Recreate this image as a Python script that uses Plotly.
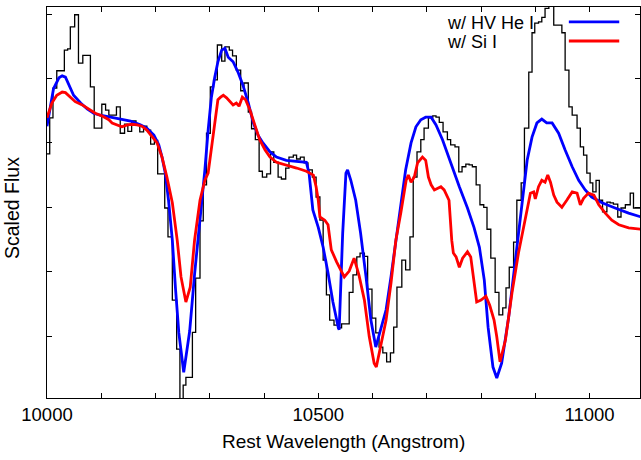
import plotly.graph_objects as go

# Observed spectrum (histogram step): bin left edges (Angstrom) and scaled flux
obs_wl = [10000,10005,10011,10018,10025,10032,10038,10043,10051,10058,
          10066,10073,10080,10087,10094,10101,10108,10114,10121,10128,
          10135,10143,10149,10156,10164,10171,10178,10184,10191,10198,
          10204,10211,10217,10223,10231,10239,10245,10251,10256,10261,
          10268,10274,10282,10288,10294,10301,10307,10314,10322,10328,
          10336,10342,10349,10357,10363,10371,10377,10384,10391,10397,
          10405,10412,10418,10426,10432,10440,10446,10454,10460,10467,
          10474,10481,10489,10496,10503,10509,10515,10521,10529,10536,
          10543,10550,10557,10564,10571,10577,10585,10591,10599,10606,
          10612,10619,10626,10633,10639,10645,10654,10661,10669,10675,
          10682,10689,10695,10703,10711,10717,10723,10730,10738,10744,
          10752,10759,10765,10772,10778,10784,10791,10798,10805,10811,
          10818,10826,10833,10840,10846,10852,10860,10866,10874,10880,
          10888,10894,10899,10906,10912,10918,10925,10934,10940,10949,
          10955,10962,10968,10977,10983,10989,10995,11001,11006,11012,
          11018,11024,11032,11038,11044,11052,11058,11066,11075,11081,
          11087,11100]
obs_flux = [3.83,4.39,4.85,5.12,5.12,5.44,5.46,5.80,5.99,5.24,
            5.36,5.36,4.87,4.23,4.23,4.60,4.51,4.43,4.43,4.56,
            4.15,4.29,4.18,4.34,4.28,4.17,4.26,4.20,3.98,4.04,
            3.52,3.52,2.99,2.54,1.56,0.80,-0.05,0.24,0.36,0.36,
            1.06,1.90,2.79,3.35,4.15,4.87,4.98,5.52,5.27,5.49,
            5.44,5.35,5.13,4.81,4.93,4.48,4.22,4.05,3.56,3.47,
            3.52,3.86,3.70,3.47,3.44,3.61,3.78,3.81,3.75,3.78,
            3.69,3.58,3.47,3.16,2.80,2.18,1.64,1.25,1.17,1.13,
            1.19,1.19,1.68,1.95,2.23,2.29,2.24,1.73,1.28,1.05,
            0.83,0.74,0.60,0.74,1.14,1.76,2.18,2.03,2.54,3.47,
            3.86,4.05,4.23,4.39,4.42,4.40,4.32,4.17,4.05,3.97,
            3.94,3.55,3.63,3.67,3.66,3.63,3.35,3.04,3.00,2.66,
            2.21,1.68,1.33,1.44,1.75,2.07,2.46,3.11,3.38,4.23,
            5.10,5.71,5.86,5.88,5.95,6.09,6.20,5.83,5.83,5.71,
            5.13,4.56,4.43,4.23,3.94,3.81,3.53,3.38,3.24,3.42,
            3.11,2.93,3.08,3.07,3.05,2.85,2.99,3.04,3.22,2.99,
            2.99,2.99]

# Model with high-velocity He I
he_wl = [10000,10006,10012,10022,10028,10034,10040,10049,10062,10074,
         10086,10098,10117,10135,10154,10172,10184,10197,10206,10212,
         10218,10224,10231,10237,10243,10252,10263,10272,10282,10291,
         10297,10303,10309,10315,10322,10328,10334,10343,10352,10361,
         10371,10380,10389,10398,10411,10423,10441,10460,10478,10483,
         10490,10500,10509,10518,10527,10537,10538.5,10545,10551,10554,
         10560,10569,10578,10588,10597,10606,10615,10625,10634,10643,
         10652,10661,10671,10680,10689,10698,10708,10717,10729,10744,
         10760,10775,10787,10797,10806,10813,10822,10829,10838,10851,
         10863,10875,10885,10894,10903,10912,10921,10931,10943,10955,
         10968,10980,10992,11004,11023,11047,11072,11095]
he_flux = [4.26,4.56,4.84,5.01,5.04,5.02,4.90,4.74,4.62,4.53,
           4.46,4.43,4.40,4.37,4.34,4.28,4.23,4.12,3.97,3.78,
           3.53,3.11,2.49,1.72,1.05,0.44,1.08,1.96,2.80,3.58,
           4.20,4.71,5.01,5.26,5.44,5.47,5.33,5.26,5.10,4.90,
           4.62,4.32,4.12,4.00,3.86,3.78,3.73,3.72,3.70,3.53,
           2.96,2.69,2.38,1.98,1.53,1.13,1.10,2.60,3.53,3.58,
           3.42,3.11,2.60,1.92,1.25,0.83,1.10,1.41,1.92,2.49,
           3.00,3.58,4.00,4.25,4.36,4.40,4.40,4.28,4.05,3.69,
           3.32,2.99,2.69,2.38,1.87,1.14,0.52,0.35,0.58,1.30,
           2.18,3.00,3.73,4.09,4.31,4.37,4.31,4.31,4.15,3.89,
           3.63,3.42,3.27,3.16,3.07,2.99,2.91,2.85]

# Model with Si I
si_wl = [10000,10009,10018,10028,10034,10043,10052,10065,10077,10089,
         10101,10114,10120,10129,10138,10148,10157,10166,10175,10184,
         10194,10203,10212,10221,10231,10240,10247,10256,10264,10272,
         10282,10291,10297,10303,10309,10315,10320,10325,10331,10337,
         10343,10349,10354,10360,10366,10374,10383,10392,10402,10411,
         10423,10442,10460,10478,10491,10496,10500,10503,10512,10518,
         10524,10534,10542,10548,10557,10566,10575,10585,10594,10603,
         10607,10615,10625,10634,10643,10652,10662,10666,10671,10677,
         10683,10692,10698,10703,10708,10714,10720,10726,10732,10741,
         10746,10749,10754,10760,10766,10775,10781,10787,10792,10800,
         10809,10816,10824,10829,10835,10845,10857,10869,10882,10891,
         10897,10900,10906,10912,10918,10923,10928,10934,10940,10949,
         10958,10968,10977,10983,10989,10998,11008,11017,11029,11041,
         11054,11072,11095]
si_flux = [4.39,4.62,4.74,4.79,4.78,4.71,4.64,4.59,4.53,4.46,
           4.42,4.36,4.31,4.28,4.25,4.28,4.29,4.28,4.26,4.20,
           4.09,4.00,3.78,3.47,3.07,2.49,1.92,1.53,1.76,2.49,
           3.11,3.42,3.53,3.94,4.31,4.67,4.71,4.74,4.70,4.64,
           4.59,4.62,4.57,4.71,4.67,4.51,4.28,4.05,3.89,3.78,
           3.70,3.66,3.61,3.56,3.50,3.32,3.11,2.85,2.80,2.73,
           2.34,2.15,2.03,1.92,2.01,2.21,1.95,1.56,0.99,0.58,
           0.52,0.83,1.25,1.82,2.49,2.91,3.42,3.50,3.39,3.47,
           3.69,3.78,3.73,3.47,3.35,3.27,3.30,3.32,3.27,3.11,
           2.49,2.29,2.23,2.07,2.21,2.31,2.23,1.82,1.53,1.56,
           1.62,1.48,1.25,0.99,0.60,0.94,1.67,2.29,2.85,3.22,
           3.24,3.13,3.32,3.42,3.39,3.50,3.39,3.19,3.08,3.00,
           3.11,3.24,3.22,3.04,3.14,3.22,3.19,3.04,2.91,2.80,
           2.73,2.68,2.66]

x_ticks = list(range(10000, 11001, 100))
x_tick_labels = ["10000", "", "", "", "", "10500", "", "", "", "", "11000"]
y_ticks = [1, 2, 3, 4, 5, 6]
legend_labels = ["w/ HV He I", "w/ Si I"]

FONT = "Liberation Sans, Arial, sans-serif"
BLUE = "#0000ff"
RED = "#ff0000"

fig = go.Figure()
fig.add_trace(go.Scatter(x=obs_wl, y=obs_flux, mode="lines", line_shape="hv",
                         line=dict(color="black", width=1.3), showlegend=False,
                         hoverinfo="skip"))
fig.add_trace(go.Scatter(x=he_wl, y=he_flux, mode="lines",
                         line=dict(color=BLUE, width=2.8), showlegend=False,
                         hoverinfo="skip"))
fig.add_trace(go.Scatter(x=si_wl, y=si_flux, mode="lines",
                         line=dict(color=RED, width=2.8), showlegend=False,
                         hoverinfo="skip"))

axis_common = dict(showgrid=False, zeroline=False, showline=True, linecolor="black",
                   linewidth=1, mirror="ticks", ticks="inside", ticklen=5,
                   tickcolor="black", tickwidth=1)

fig.update_layout(
    width=641, height=460,
    margin=dict(l=47, r=1, t=7, b=62),
    paper_bgcolor="white", plot_bgcolor="white",
    font=dict(family=FONT, size=18, color="black"),
    hovermode=False,
    xaxis=dict(range=[10000, 11093], tickvals=x_ticks, ticktext=x_tick_labels,
               tickfont=dict(size=18.5), **axis_common),
    yaxis=dict(range=[0.04, 6.11], tickvals=y_ticks, showticklabels=False, **axis_common),
    annotations=[
        dict(text="Rest Wavelength (Angstrom)", xref="paper", yref="paper",
             x=0.5, y=-0.110, xanchor="center", yanchor="middle", showarrow=False,
             font=dict(size=19)),
        dict(text="Scaled Flux", xref="paper", yref="paper", textangle=-90,
             x=-0.059, y=0.486, xanchor="center", yanchor="middle", showarrow=False,
             font=dict(size=19.5)),
        dict(text=legend_labels[0], xref="paper", yref="paper", x=0.671, y=0.959,
             xanchor="left", yanchor="middle", showarrow=False, font=dict(size=18)),
        dict(text=legend_labels[1], xref="paper", yref="paper", x=0.671, y=0.910,
             xanchor="left", yanchor="middle", showarrow=False, font=dict(size=18)),
    ],
    shapes=[
        dict(type="line", xref="paper", yref="paper", x0=0.880, x1=0.965, y0=0.962, y1=0.962,
             line=dict(color=BLUE, width=2.8)),
        dict(type="line", xref="paper", yref="paper", x0=0.880, x1=0.965, y0=0.913, y1=0.913,
             line=dict(color=RED, width=2.8)),
    ],
)

fig.write_html("out.html", config={"displayModeBar": False},
               post_script="document.body.style.margin='0';")
